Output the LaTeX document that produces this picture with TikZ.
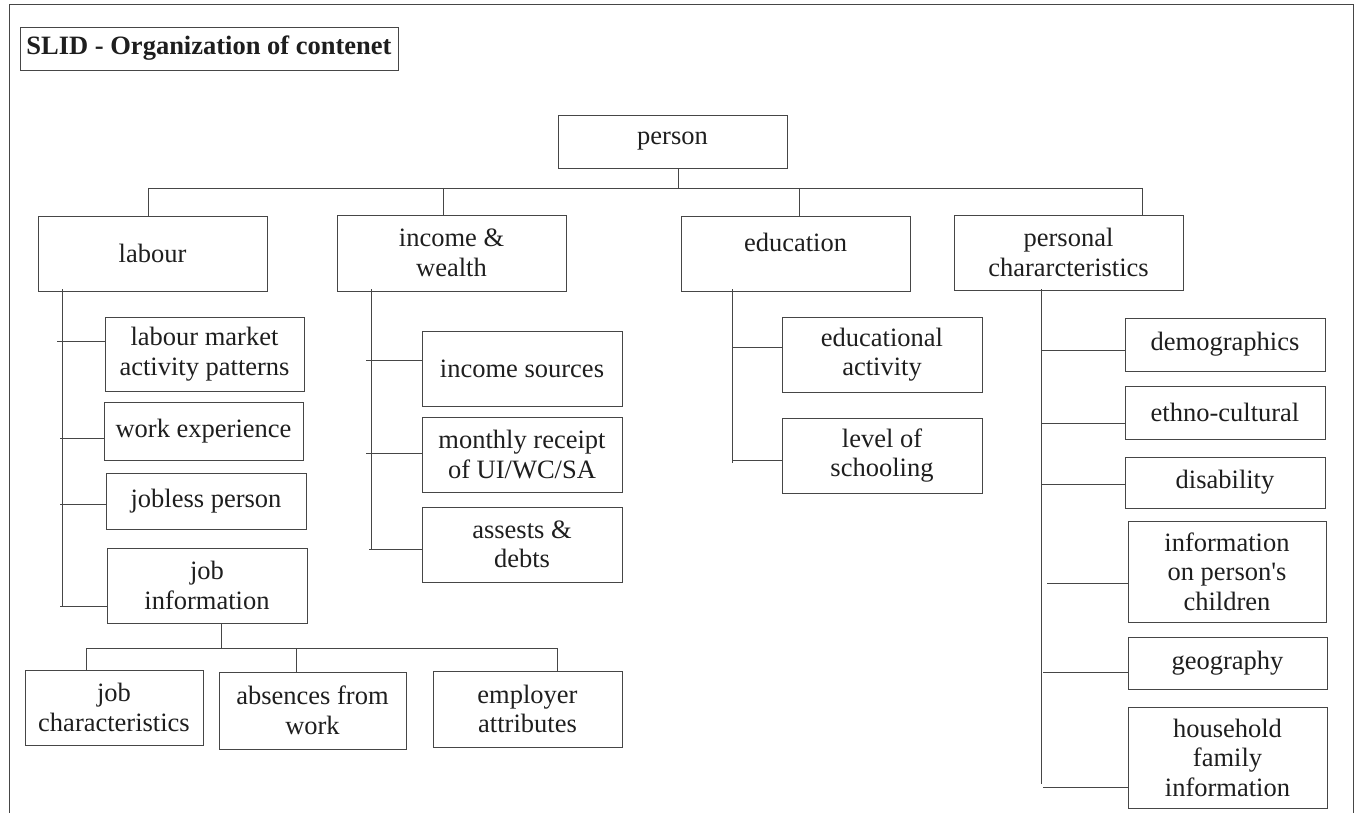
\documentclass[tikz,border=0pt]{standalone}
\usepackage{fontspec}
\setmainfont{Liberation Serif}
\usepackage{tikz}
\definecolor{lgray}{RGB}{70, 70, 70}
\definecolor{dtext}{RGB}{30, 30, 30}
\tikzset{box/.style = {draw = lgray, line width = 0.8pt, inner sep = 0pt, align = center, text = dtext, font = \fontsize{26.5}{29.5}\selectfont},
	conn/.style = {draw = lgray, line width = 0.8pt}}

\begin{document}
\begin{tikzpicture}[x = 1pt, y = -1pt]
			\useasboundingbox (0,0) rectangle (1359,813);
			\draw[conn] (9,813) -- (9,4) -- (1353,4) -- (1353,813);
			\node (title) at (209,48.5) [box, minimum width = 378pt, minimum height = 43pt, font = \fontsize{26.5}{29.5}\selectfont\bfseries] {SLID - Organization of contenet};
			% top level
			\node (person) at (672.5,141.5) [box, minimum width = 229pt, minimum height = 53pt] {person};
			\node (labour) at (152.5,253.5) [box, minimum width = 229pt, minimum height = 75pt] {labour};
			\node (income) at (451.5,253) [box, minimum width = 229pt, minimum height = 76pt] {income \&\\wealth};
			\node (educ) at (795.5,253.5) [box, minimum width = 229pt, minimum height = 75pt] {education\\[-8pt]\mbox{}};
			\node (pers) at (1068.5,252.5) [box, minimum width = 229pt, minimum height = 75pt] {personal\\chararcteristics};
			% labour
			\node (lmap) at (204.5,354) [box, minimum width = 199pt, minimum height = 74pt] {labour market\\activity patterns};
			\node (workexp) at (203.5,431) [box, minimum width = 199pt, minimum height = 58pt] {work experience};
			\node (jobless) at (206,501) [box, minimum width = 200pt, minimum height = 56pt] {jobless person};
			\node (jobinfo) at (207,585.5) [box, minimum width = 200pt, minimum height = 75pt] {job\\information};
			\node (jobchar) at (114,707.5) [box, minimum width = 178pt, minimum height = 75pt] {job\\characteristics};
			\node (absences) at (312.5,710.5) [box, minimum width = 187pt, minimum height = 77pt] {absences from\\work};
			\node (employer) at (527.5,709) [box, minimum width = 189pt, minimum height = 76pt] {employer\\attributes};
			% income
			\node (incsrc) at (522,368.5) [box, minimum width = 200pt, minimum height = 75pt] {income sources};
			\node (receipt) at (522,454.5) [box, minimum width = 200pt, minimum height = 75pt] {monthly receipt\\of UI/WC/SA};
			\node (assets) at (522,544.5) [box, minimum width = 200pt, minimum height = 75pt] {assests \&\\debts};
			% education
			\node (eduact) at (882,354.5) [box, minimum width = 200pt, minimum height = 75pt] {educational\\activity};
			\node (school) at (882,455.5) [box, minimum width = 200pt, minimum height = 75pt] {level of\\schooling};
			% personal
			\node (demo) at (1225,344.5) [box, minimum width = 200pt, minimum height = 53pt] {demographics};
			\node (ethno) at (1225,412.5) [box, minimum width = 200pt, minimum height = 53pt] {ethno-cultural};
			\node (disab) at (1225,482.5) [box, minimum width = 200pt, minimum height = 51pt] {disability};
			\node (children) at (1227,571.5) [box, minimum width = 198pt, minimum height = 101pt] {information\\on person\textquotesingle s\\children};
			\node (geo) at (1227.5,663) [box, minimum width = 199pt, minimum height = 52pt] {geography};
			\node (hhold) at (1227.5,757.5) [box, minimum width = 199pt, minimum height = 101pt] {household\\family\\information};
			% bus under person
			\coordinate (bp) at (678,188);
			\coordinate (b1) at (148,188);
			\coordinate (b2) at (443,188);
			\coordinate (b3) at (799,188);
			\coordinate (b4) at (1142,188);
			\draw[conn] (person.south -| bp) -- (bp);
			\draw[conn] (b1) -- (b4);
			\draw[conn] (b1) -- (b1 |- labour.north);
			\draw[conn] (b2) -- (b2 |- income.north);
			\draw[conn] (b3) -- (b3 |- educ.north);
			\draw[conn] (b4) -- (b4 |- pers.north);
			% labour trunk
			\coordinate (labtop) at (62,289);
			\coordinate (labend) at (62,606);
			\draw[conn] (labtop) -- (labend);
			\coordinate (t1) at (57,341);
			\coordinate (t2) at (60,438);
			\coordinate (t3) at (60,504);
			\coordinate (t4) at (60,606);
			\draw[conn] (t1) -- (t1 -| lmap.west);
			\draw[conn] (t2) -- (t2 -| workexp.west);
			\draw[conn] (t3) -- (t3 -| jobless.west);
			\draw[conn] (t4) -- (t4 -| jobinfo.west);
			% job information bus
			\coordinate (jp) at (221,648);
			\coordinate (j1) at (86,648);
			\coordinate (j2) at (296,648);
			\coordinate (j3) at (557,648);
			\draw[conn] (jobinfo.south -| jp) -- (jp);
			\draw[conn] (j1) -- (j3);
			\draw[conn] (j1) -- (j1 |- jobchar.north);
			\draw[conn] (j2) -- (j2 |- absences.north);
			\draw[conn] (j3) -- (j3 |- employer.north);
			% income trunk
			\coordinate (inctop) at (371,289);
			\coordinate (incend) at (371,549);
			\draw[conn] (inctop) -- (incend);
			\coordinate (i1) at (366,360);
			\coordinate (i2) at (366,453);
			\coordinate (i3) at (369,549);
			\draw[conn] (i1) -- (i1 -| incsrc.west);
			\draw[conn] (i2) -- (i2 -| receipt.west);
			\draw[conn] (i3) -- (i3 -| assets.west);
			% education trunk
			\coordinate (edutop) at (732,289);
			\coordinate (eduend) at (732,463);
			\draw[conn] (edutop) -- (eduend);
			\coordinate (e1) at (732,347);
			\coordinate (e2) at (732,460);
			\draw[conn] (e1) -- (e1 -| eduact.west);
			\draw[conn] (e2) -- (e2 -| school.west);
			% personal trunk
			\coordinate (perstop) at (1041,289);
			\coordinate (persend) at (1041,784);
			\draw[conn] (perstop) -- (persend);
			\coordinate (p1) at (1041,350);
			\coordinate (p2) at (1041,423);
			\coordinate (p3) at (1041,484);
			\coordinate (p4) at (1047,583);
			\coordinate (p5) at (1043,672);
			\coordinate (p6) at (1043,787);
			\draw[conn] (p1) -- (p1 -| demo.west);
			\draw[conn] (p2) -- (p2 -| ethno.west);
			\draw[conn] (p3) -- (p3 -| disab.west);
			\draw[conn] (p4) -- (p4 -| children.west);
			\draw[conn] (p5) -- (p5 -| geo.west);
			\draw[conn] (p6) -- (p6 -| hhold.west);
\end{tikzpicture}
\end{document}
